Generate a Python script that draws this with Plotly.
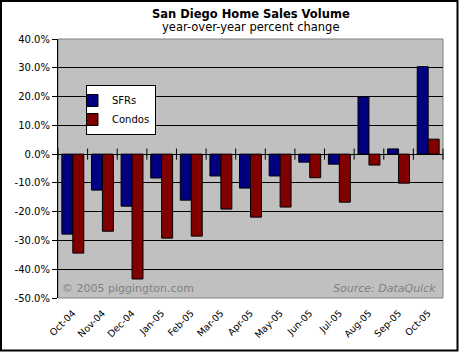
import plotly.graph_objects as go

months = ["Oct-04", "Nov-04", "Dec-04", "Jan-05", "Feb-05", "Mar-05", "Apr-05",
          "May-05", "Jun-05", "Jul-05", "Aug-05", "Sep-05", "Oct-05"]
sfrs = [-27.8, -12.5, -18.1, -8.3, -16.0, -7.6, -11.8, -7.6, -2.8, -3.5, 19.9, 1.8, 30.4]
condos = [-34.4, -26.8, -43.4, -29.2, -28.5, -19.1, -21.9, -18.4, -8.2, -16.7, -3.8, -10.1, 5.2]
y_ticks = [40, 30, 20, 10, 0, -10, -20, -30, -40, -50]

FONT = "DejaVu Sans, Verdana, sans-serif"
W, H = 459, 352
L, R, T, B = 58, 16, 39, 54
PW, PH = W - L - R, H - T - B

x_idx = list(range(len(months)))

fig = go.Figure()
fig.add_trace(go.Bar(x=x_idx, y=sfrs, name="SFRs",
                     marker=dict(color="#000080", line=dict(color="black", width=1))))
fig.add_trace(go.Bar(x=x_idx, y=condos, name="Condos",
                     marker=dict(color="#800000", line=dict(color="black", width=1))))
# category-boundary tick marks on the zero axis
bounds = [i + 0.5 for i in range(-1, len(months))]
fig.add_trace(go.Scatter(x=bounds, y=[0] * len(bounds), mode="markers",
                         marker=dict(symbol="line-ns-open", size=8, color="black",
                                     line=dict(color="black", width=1)),
                         showlegend=False, hoverinfo="skip", cliponaxis=False))

fig.update_layout(
    width=W, height=H,
    margin=dict(l=L, r=R, t=T, b=B, autoexpand=False),
    paper_bgcolor="white", plot_bgcolor="#C0C0C0",
    barmode="group", bargap=0.26, bargroupgap=0,
    font=dict(family=FONT, size=10, color="black"),
    showlegend=True,
    legend=dict(x=(86 - L) / PW, y=(H - B - 85) / PH, xanchor="left", yanchor="top",
                bgcolor="white", bordercolor="black", borderwidth=1,
                font=dict(family=FONT, size=10, color="black"),
                tracegroupgap=0, itemwidth=30, indentation=-15),
    xaxis=dict(range=[-0.5, len(months) - 0.5], tickmode="array", tickvals=x_idx,
               ticktext=months, tickangle=-45, ticks="outside", ticklen=5,
               tickcolor="rgba(0,0,0,0)", showgrid=False, automargin=False,
               zeroline=False, showline=False,
               tickfont=dict(family=FONT, size=9.5, color="black")),
    yaxis=dict(range=[-50, 40], tickmode="array", tickvals=y_ticks,
               ticktext=[f"{v:.1f}%" for v in y_ticks], automargin=False,
               ticks="outside", ticklen=5, tickcolor="black",
               showgrid=True, gridcolor="black", gridwidth=1,
               zeroline=True, zerolinecolor="black", zerolinewidth=1,
               showline=True, linecolor="black", linewidth=1,
               tickfont=dict(family=FONT, size=10, color="black")),
)

fig.add_annotation(text="<b>San Diego Home Sales Volume</b>", xref="paper", yref="paper",
                   x=0.5, y=(H - B - 14) / PH, xanchor="center", yanchor="middle",
                   showarrow=False, font=dict(family=FONT, size=11.5, color="black"))
fig.add_annotation(text="year-over-year percent change", xref="paper", yref="paper",
                   x=0.5, y=(H - B - 27) / PH, xanchor="center", yanchor="middle",
                   showarrow=False, font=dict(family=FONT, size=11.5, color="black"))
fig.add_annotation(text="© 2005 piggington.com", xref="paper", yref="paper",
                   x=2 / PW, y=(H - B - 288) / PH, xanchor="left", yanchor="middle",
                   showarrow=False, font=dict(family=FONT, size=11, color="#808080"))
fig.add_annotation(text="<i>Source: DataQuick</i>", xref="paper", yref="paper",
                   x=(438 - L) / PW, y=(H - B - 288) / PH, xanchor="right", yanchor="middle",
                   showarrow=False, font=dict(family=FONT, size=11, color="#808080"))

# plot-area border (gray) and outer chart frame (black)
fig.add_shape(type="rect", xref="paper", yref="paper", x0=0, x1=1, y0=0, y1=1,
              line=dict(color="#808080", width=1), layer="below")
fig.add_shape(type="rect", xref="paper", yref="paper",
              x0=(1 - L) / PW, x1=(W - 1.5 - L) / PW,
              y0=(H - B - (H - 1.5)) / PH, y1=(H - B - 1) / PH,
              line=dict(color="black", width=2))

fig.write_html("out.html")
